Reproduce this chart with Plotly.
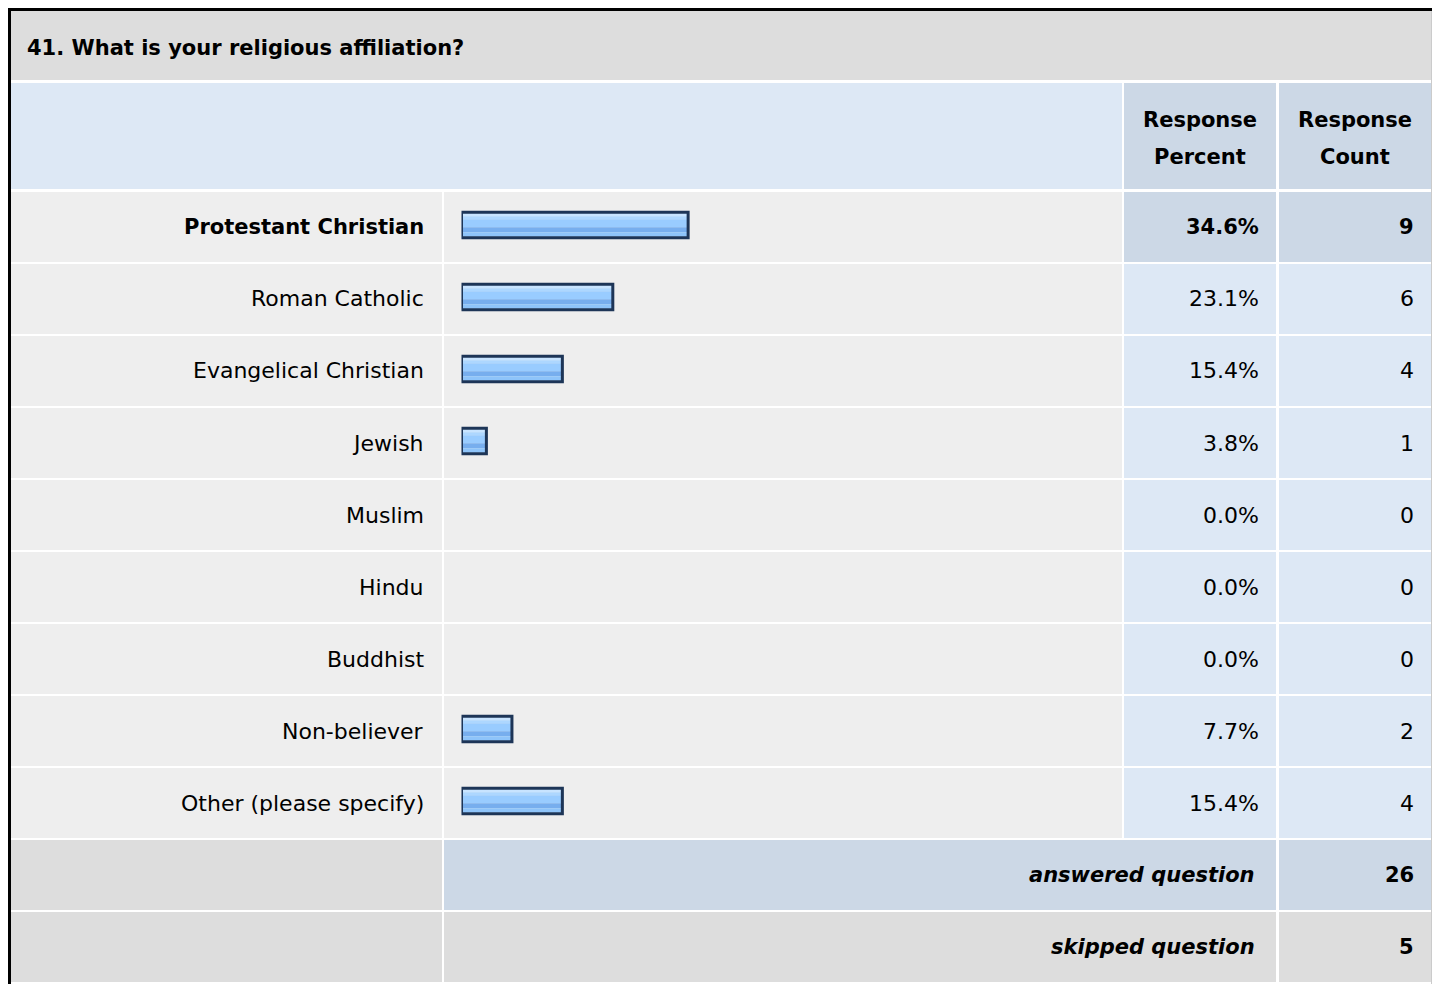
import plotly.graph_objects as go

# the page body keeps its 8px margin, so the figure starts at (8, 8)
PAGE_OFF = 8
FW, FH = 1440 - PAGE_OFF, 984 - PAGE_OFF

question = "41. What is your religious affiliation?"
categories = ["Protestant Christian", "Roman Catholic", "Evangelical Christian", "Jewish",
              "Muslim", "Hindu", "Buddhist", "Non-believer", "Other (please specify)"]
response_percent = [34.6, 23.1, 15.4, 3.8, 0.0, 0.0, 0.0, 7.7, 15.4]
response_count = [9, 6, 4, 1, 0, 0, 0, 2, 4]
answered_question = 26
skipped_question = 5

FONT = "DejaVu Sans, Liberation Sans, Arial, sans-serif"
GRAY = "#DDDDDD"
LIGHT = "#EEEEEE"
BLUE = "#DDE8F5"
BLUE_DARK = "#CCD8E6"

# table geometry in page pixels
ROW_TOP, ROW_H, CELL_H = 192, 72, 70
LABEL = (10, 442)
BAR = (444, 1122)
PCT = (1124, 1276)
CNT = (1279, 1431)


def px_x(x):
    return (x - PAGE_OFF) / FW


def px_y(y):
    return 1 - (y - PAGE_OFF) / FH


def cell(x0, x1, y0, y1, color):
    return dict(type="rect", xref="paper", yref="paper", layer="below",
                x0=px_x(x0), x1=px_x(x1), y0=px_y(y1), y1=px_y(y0),
                fillcolor=color, line_width=0)


def label(x, y, s, anchor="right", bold=False, italic=False):
    return dict(xref="paper", yref="paper", x=px_x(x), y=px_y(y), text=s,
                xanchor=anchor, yanchor="middle", showarrow=False,
                font=dict(family=FONT, size=21 if bold else 22, color="#000000",
                          weight="bold" if bold else "normal",
                          style="italic" if italic else "normal"))


top = response_count.index(max(response_count))

shapes = []
annotations = []

# title + header
shapes.append(cell(10, 1431, 10, 80, GRAY))
shapes.append(cell(10, 1122, 83, 189, BLUE))
shapes.append(cell(*PCT, 83, 189, BLUE_DARK))
shapes.append(cell(*CNT, 83, 189, BLUE_DARK))
annotations.append(label(25, 48, question, anchor="left", bold=True))
for col, word in [(PCT, "Percent"), (CNT, "Count")]:
    cx = (col[0] + col[1]) / 2
    annotations.append(label(cx, 120, "Response", anchor="center", bold=True))
    annotations.append(label(cx, 157, word, anchor="center", bold=True))

# answer rows
for i, (cat, p, n) in enumerate(zip(categories, response_percent, response_count)):
    y0 = ROW_TOP + i * ROW_H
    y1 = y0 + CELL_H
    yc = (y0 + y1) / 2
    hi = i == top
    shapes.append(cell(*LABEL, y0, y1, LIGHT))
    shapes.append(cell(*BAR, y0, y1, LIGHT))
    shapes.append(cell(*PCT, y0, y1, BLUE_DARK if hi else BLUE))
    shapes.append(cell(*CNT, y0, y1, BLUE_DARK if hi else BLUE))
    annotations.append(label(426, yc, cat, bold=hi))
    annotations.append(label(1261, yc, f"{p:.1f}%", bold=hi))
    annotations.append(label(1416, yc, str(n), bold=hi))

# footer rows
y_ans = ROW_TOP + len(categories) * ROW_H
y_skip = y_ans + ROW_H
shapes.append(cell(*LABEL, y_ans, y_ans + CELL_H, GRAY))
shapes.append(cell(BAR[0], PCT[1], y_ans, y_ans + CELL_H, BLUE_DARK))
shapes.append(cell(*CNT, y_ans, y_ans + CELL_H, BLUE_DARK))
shapes.append(cell(*LABEL, y_skip, y_skip + CELL_H, GRAY))
shapes.append(cell(BAR[0], PCT[1], y_skip, y_skip + CELL_H, GRAY))
shapes.append(cell(*CNT, y_skip, y_skip + CELL_H, GRAY))
annotations.append(label(1257, y_ans + 35, "answered question", bold=True, italic=True))
annotations.append(label(1416, y_ans + 35, str(answered_question), bold=True))
annotations.append(label(1257, y_skip + 35, "skipped question", bold=True, italic=True))
annotations.append(label(1416, y_skip + 35, str(skipped_question), bold=True))

# outer frame
shapes.append(dict(type="rect", xref="paper", yref="paper", layer="above",
                   x0=px_x(9.5), x1=px_x(1433.3), y0=px_y(1000), y1=px_y(9.5),
                   line=dict(color="#000000", width=3), fillcolor="rgba(0,0,0,0)"))

# bars: stacked horizontal strips fake the glossy gradient, outline on top
bar_x = [p if p > 0 else None for p in response_percent]
BAR_TOP, BAR_H = -14.8, 25.6
strips = [(0, 4, "#C8E4FF"), (4, 7, "#ADD7FF"), (7, 15, "#99CCFF"),
          (15, 20, "#77AEEE"), (20, 24, "#8EC4FA"), (24, 25.6, "#A8D4FF")]

fig = go.Figure()
for s0, s1, color in strips:
    fig.add_trace(go.Bar(
        x=bar_x, y=categories, orientation="h",
        offset=(BAR_TOP + s0) / ROW_H, width=(s1 - s0) / ROW_H,
        marker=dict(color=color, line_width=0),
        hoverinfo="skip",
    ))
fig.add_trace(go.Bar(
    x=bar_x, y=categories, orientation="h",
    offset=BAR_TOP / ROW_H, width=BAR_H / ROW_H,
    marker=dict(color="rgba(0,0,0,0)", line=dict(color="#1D3557", width=3)),
    customdata=response_count,
    hovertemplate="%{y}: %{x:.1f}% (%{customdata})<extra></extra>",
))

fig.update_layout(
    width=FW, height=FH,
    margin=dict(t=0, b=0, l=0, r=0),
    paper_bgcolor="white",
    plot_bgcolor="rgba(0,0,0,0)",
    barmode="overlay",
    showlegend=False,
    shapes=shapes,
    annotations=annotations,
    xaxis=dict(range=[0, 100], domain=[px_x(461.5), px_x(461.5 + 655)], visible=False, fixedrange=True),
    yaxis=dict(type="category", categoryorder="array", categoryarray=categories,
               range=[len(categories) - 0.5, -0.5],
               domain=[px_y(ROW_TOP - 1 + len(categories) * ROW_H), px_y(ROW_TOP - 1)],
               visible=False, fixedrange=True),
)

fig.write_html("out.html")
